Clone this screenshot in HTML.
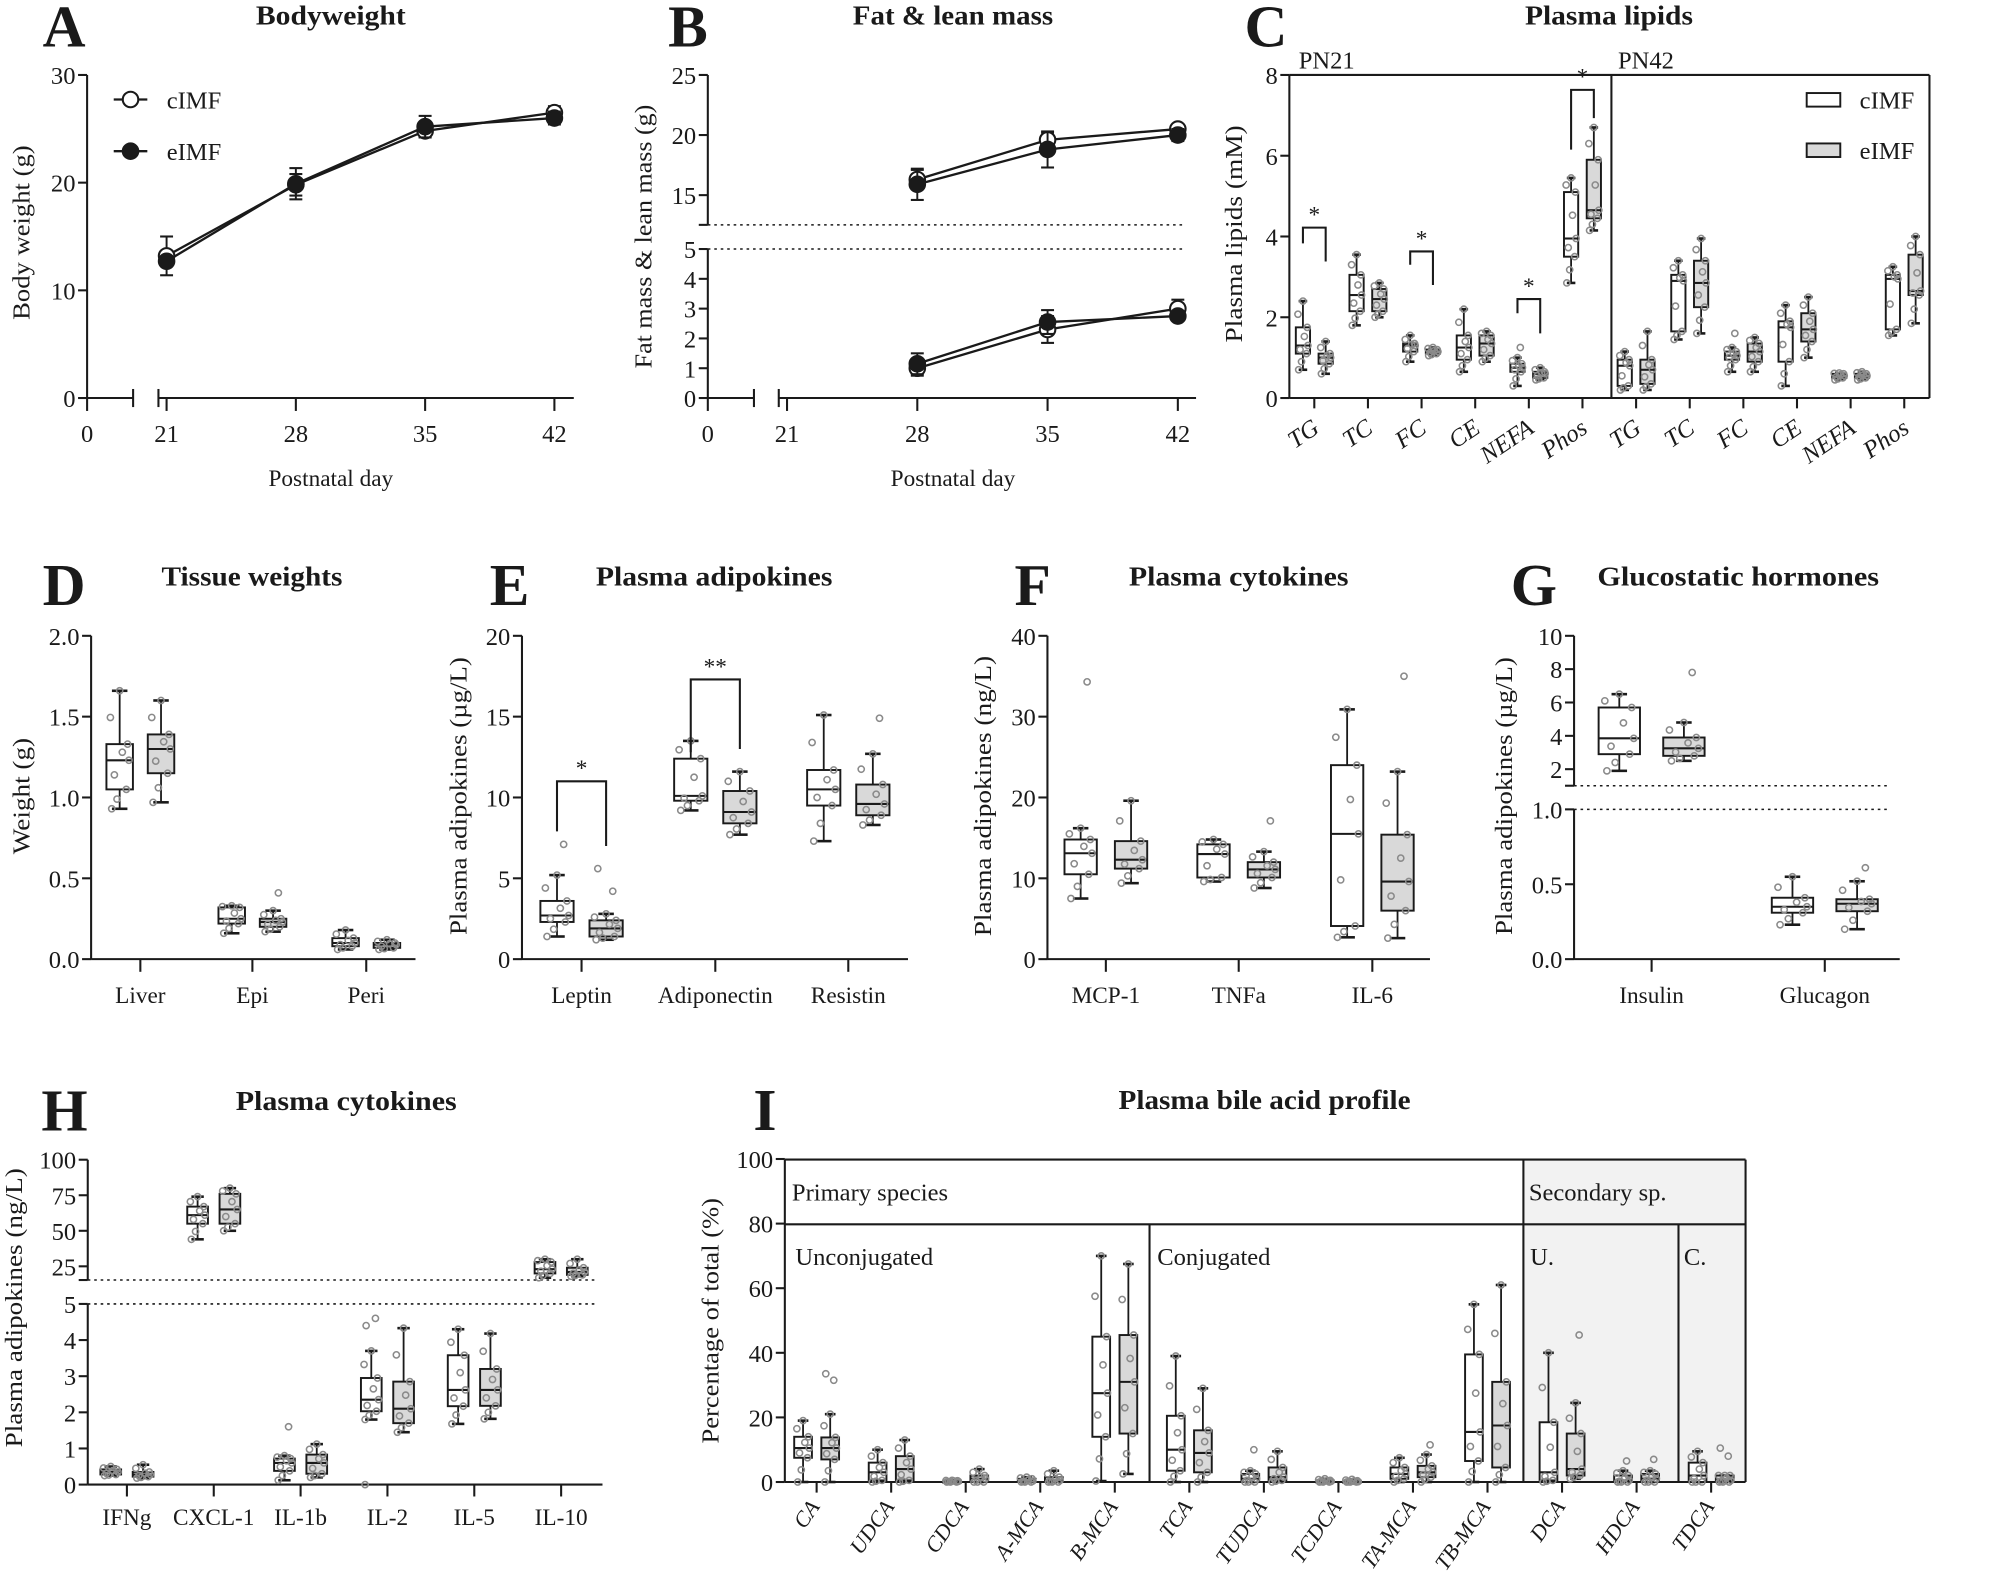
<!DOCTYPE html>
<html><head><meta charset="utf-8"><title>Figure</title>
<style>
html,body{margin:0;padding:0;background:#fff}
svg{display:block;font-family:"Liberation Serif",serif}
</style></head>
<body>
<svg id="fig" xmlns="http://www.w3.org/2000/svg" width="2007" height="1581" viewBox="0 0 1553 1223.4" preserveAspectRatio="none"></svg>
<script>
// ===== Panel A data =====
const dayA=[21,28,35,42];
const bwCtrl=[13.2,19.8,24.8,26.5];
const bwCtrlErr=[1.8,1.0,0.6,0.6];
const bwExp=[12.7,19.9,25.2,26.0];
const bwExpErr=[0.4,1.45,1.0,0.6];
const aYTicks=[0,10,20,30];
const aXTicks=[0,21,28,35,42];
// ===== Panel B data =====
const dayB=[28,35,42];
const leanCtrl=[16.3,19.6,20.5];
const leanCtrlErr=[0.8,0.6,0.3];
const leanExp=[15.9,18.8,20.0];
const leanExpErr=[1.3,1.5,0.5];
const fatCtrl=[1.0,2.3,3.0];
const fatCtrlErr=[0.25,0.45,0.3];
const fatExp=[1.15,2.55,2.75];
const fatExpErr=[0.35,0.4,0.15];
const bUpTicks=[15,20,25];
const bLowTicks=[0,1,2,3,4,5];
// ===== Panel C data [lo,q1,med,q3,hi] =====
const cCats=['TG','TC','FC','CE','NEFA','Phos','TG','TC','FC','CE','NEFA','Phos'];
const cCtrl=[[0.7,1.1,1.3,1.75,2.4],[1.8,2.15,2.55,3.05,3.55],[0.9,1.15,1.3,1.35,1.55],[0.65,0.95,1.25,1.55,2.2],[0.3,0.65,0.75,0.85,1.0],[2.85,3.5,3.95,5.1,5.45],
 [0.2,0.3,0.8,0.95,1.15],[1.45,1.65,2.9,3.05,3.4],[0.65,0.95,1.05,1.15,1.25],[0.3,0.9,1.75,1.9,2.3],[0.45,0.5,0.55,0.6,0.62],[1.55,1.7,2.95,3.05,3.25]];
const cExp=[[0.6,0.85,1.0,1.1,1.4],[2.0,2.15,2.45,2.7,2.85],[1.05,1.1,1.15,1.2,1.25],[0.9,1.05,1.35,1.55,1.65],[0.45,0.5,0.6,0.65,0.75],[4.15,4.45,4.65,5.9,6.7],
 [0.2,0.35,0.7,0.95,1.65],[1.6,2.25,2.85,3.4,3.95],[0.65,0.9,1.15,1.35,1.5],[1.0,1.4,1.7,2.1,2.5],[0.45,0.5,0.55,0.6,0.65],[1.85,2.55,2.65,3.55,4.0]];
const cCtrlOut=[[],[],[],[],[1.25],[],[],[],[1.6],[],[],[]];
const cExpOut=[[],[],[],[],[],[],[],[],[],[],[],[]];
const cYTicks=[0,2,4,6,8];
const cBrackets=[[0,3.83,4.22,3.38,'*'],[2,3.3,3.63,2.8,'*'],[4,2.1,2.45,1.6,'*'],[5,6.15,7.63,6.93,'*']];
// ===== Panel D =====
const dCats=['Liver','Epi','Peri'];
const dCtrl=[[0.93,1.05,1.23,1.33,1.66],[0.16,0.22,0.25,0.32,0.33],[0.06,0.08,0.10,0.13,0.18]];
const dExp=[[0.97,1.15,1.30,1.39,1.60],[0.17,0.20,0.23,0.25,0.30],[0.06,0.07,0.09,0.10,0.12]];
const dCtrlOut=[[],[],[]];
const dExpOut=[[],[0.41],[]];
const dYTicks=[0,0.5,1.0,1.5,2.0];
const dYLabels=['0.0','0.5','1.0','1.5','2.0'];
// ===== Panel E =====
const eCats=['Leptin','Adiponectin','Resistin'];
const eCtrl=[[1.4,2.3,2.7,3.6,5.2],[9.2,9.8,10.1,12.4,13.5],[7.3,9.5,10.5,11.7,15.1]];
const eExp=[[1.2,1.4,1.9,2.4,2.8],[7.7,8.4,9.1,10.4,11.6],[8.3,8.9,9.6,10.8,12.7]];
const eCtrlOut=[[7.1],[],[]];
const eExpOut=[[4.2,5.6],[],[14.9]];
const eYTicks=[0,5,10,15,20];
const eBrackets=[[0,7.9,11.0,7.0,'*'],[1,12.8,17.3,13.0,'**']];
// ===== Panel F =====
const fCats=['MCP-1','TNFa','IL-6'];
const fCtrl=[[7.5,10.5,13.1,14.8,16.2],[9.6,10.1,13.0,14.2,14.8],[2.7,4.1,15.5,24.0,30.9]];
const fExp=[[9.4,11.2,12.3,14.6,19.6],[8.8,10.1,11.1,12.0,13.3],[2.6,6.0,9.6,15.4,23.2]];
const fCtrlOut=[[34.3],[],[]];
const fExpOut=[[],[17.1],[35.0]];
const fYTicks=[0,10,20,30,40];
// ===== Panel G =====
const gCats=['Insulin','Glucagon'];
const gSeg=['u','l'];
const gCtrl=[[1.9,2.9,3.85,5.7,6.5],[0.23,0.31,0.35,0.41,0.55]];
const gExp=[[2.5,2.8,3.25,3.9,4.8],[0.20,0.32,0.37,0.40,0.52]];
const gCtrlOut=[[],[]];
const gExpOut=[[7.8],[0.61]];
const gUpTicks=[2,4,6,8,10];
const gLowTicks=[0,0.5,1.0];
const gLowLabels=['0.0','0.5','1.0'];
// ===== Panel H =====
const hCats=['IFNg','CXCL-1','IL-1b','IL-2','IL-5','IL-10'];
const hSeg=['l','u','l','l','l','u'];
const hCtrl=[[0.25,0.28,0.35,0.42,0.5],[44,55,61,67,74],[0.12,0.38,0.6,0.72,0.8],[1.8,2.03,2.35,2.95,3.7],[1.68,2.17,2.62,3.58,4.3],[17,20,23,28,30]];
const hExp=[[0.18,0.22,0.28,0.35,0.55],[50,55,65,76,80],[0.2,0.3,0.6,0.83,1.12],[1.45,1.7,2.1,2.85,4.33],[1.82,2.18,2.62,3.2,4.18],[18,19,21,24,30]];
const hCtrlOut=[[],[],[1.6],[4.6,4.4,0.0],[],[]];
const hExpOut=[[],[],[],[],[],[]];
const hUpTicks=[25,50,75,100];
const hLowTicks=[0,1,2,3,4,5];
// ===== Panel I =====
const iCats=['CA','UDCA','CDCA','A-MCA','B-MCA','TCA','TUDCA','TCDCA','TA-MCA','TB-MCA','DCA','HDCA','TDCA'];
const iCtrl=[[0,7.5,10.5,14,19],[0,0.5,3,6,10],[0,0,0.2,0.4,0.5],[0,0,0.3,1,1.5],[0.3,14,27.5,45,70],[0,3.5,10,20.5,39],[0,0,1,2.5,3.5],[0,0,0.2,0.5,1],[0,1,2.5,4.5,7.5],[0,6.5,15.5,39.5,55],[0,0.5,3,18.5,40],[0,0,0.5,2,3.5],[0,0,2,6,9.5]];
const iExp=[[0,7,10.5,13.8,21],[0,0.5,4,8,13],[0,0,1,2,4],[0,0,0.5,1.5,3.5],[2.5,15,31,45.5,67.5],[0,3,9,16,29],[0,0.5,1.5,4.5,9.5],[0,0,0.1,0.4,0.8],[0,1.5,3,5,8.5],[0,4.5,17.5,31,61],[1,2,4,15,24.5],[0,0,1,2.5,3.5],[0,0,0.5,2,2]];
const iCtrlOut=[[],[],[],[],[],[],[10],[],[],[],[],[6.5],[]];
const iExpOut=[[31.5,33.5],[],[],[],[],[],[],[],[11.5],[],[45.5],[7],[8,10.5]];
const iYTicks=[0,20,40,60,80,100];

// ===== helpers =====
const NS='http://www.w3.org/2000/svg';
const svg=document.getElementById('fig');
const INK='#1a1a1a';
function grp(name){const g=document.createElementNS(NS,'g');svg.appendChild(g);
 
 
 return g;}
function ln(p,x1,y1,x2,y2,sw,name,dash){const e=document.createElementNS(NS,'line');p.appendChild(e);
 e.setAttribute('x1',x1);e.setAttribute('y1',y1);e.setAttribute('x2',x2);e.setAttribute('y2',y2);
 e.setAttribute('stroke',INK);e.setAttribute('stroke-width',sw);
 if(dash){e.setAttribute('stroke-dasharray',dash);}
 
 
 return e;}
function tx(p,x,y,s,size,anchor,name,weight,len,rot,italic){const e=document.createElementNS(NS,'text');p.appendChild(e);
 e.setAttribute('x',x);e.setAttribute('y',y);e.setAttribute('font-size',size);e.setAttribute('text-anchor',anchor);
 e.setAttribute('fill',INK);
 if(weight){e.setAttribute('font-weight',weight);}
 if(italic){e.setAttribute('font-style','italic');}
 if(len){e.setAttribute('textLength',len);e.setAttribute('lengthAdjust','spacingAndGlyphs');}
 if(rot!==undefined&&rot!==null){e.setAttribute('transform','rotate('+rot+' '+x+' '+y+')');}
 e.textContent=s;
 
 
 return e;}
function circ(p,cx,cy,r,fill,stroke,sw,name){const e=document.createElementNS(NS,'circle');p.appendChild(e);
 e.setAttribute('cx',cx);e.setAttribute('cy',cy);e.setAttribute('r',r);e.setAttribute('fill',fill);e.setAttribute('stroke',stroke);e.setAttribute('stroke-width',sw);
 
 
 return e;}
function rect(p,x,y,w,h,fill,stroke,sw,name){const e=document.createElementNS(NS,'rect');p.appendChild(e);
 e.setAttribute('x',x);e.setAttribute('y',y);e.setAttribute('width',w);e.setAttribute('height',h);e.setAttribute('fill',fill);
 e.setAttribute('stroke',stroke);e.setAttribute('stroke-width',sw);
 
 
 return e;}
function yTicks(p,x,vals,labels,yf){vals.forEach((v,i)=>{const y=yf(v);ln(p,x-7,y,x,y,1.6,'y-tick');tx(p,x-9,y+7,labels[i],19,'end','y-tick-label');});}
function header(p,letter,lx,ly,title,tcx,ty,tlen){tx(p,lx,ly,letter,46,'start','panel-letter','bold');tx(p,tcx,ty,title,21,'middle','panel-title','bold',tlen);}
const JIT=[-0.3,0.25,-0.1,0.35,-0.2,0.1,0.3,-0.35,0.0,0.2,-0.25];
function boxPlot(p,xc,w,st,out,yf,fill,name){
 const g=document.createElementNS(NS,'g');p.appendChild(g);
 
 
 const [lo,q1,md,q3,hi]=st;const cw=Math.min(w*0.3,6);
 ln(g,xc,yf(lo),xc,yf(hi),1.4,'whisker');
 ln(g,xc-cw,yf(lo),xc+cw,yf(lo),2,'whisker-cap');
 ln(g,xc-cw,yf(hi),xc+cw,yf(hi),2,'whisker-cap');
 rect(g,xc-w/2,yf(q3),w,Math.max(yf(q1)-yf(q3),1.5),fill,INK,1.5,'box');
 ln(g,xc-w/2,yf(md),xc+w/2,yf(md),1.6,'median-line');
 const pts=[lo,q1,(lo+q1)/2,md,(q1+md)/2,(md+q3)/2,q3,(q3+hi)/2,hi].concat(out);
 pts.forEach((v,i)=>{circ(g,xc+JIT[i%JIT.length]*w,yf(v),2.4,'none','#8a8a8a',1.2,'data-point');});
}
function bracket(p,x1,x2,yl,yt,yr,lab,yf){
 const e=document.createElementNS(NS,'polyline');p.appendChild(e);
 e.setAttribute('points',x1+','+yf(yl)+' '+x1+','+yf(yt)+' '+x2+','+yf(yt)+' '+x2+','+yf(yr));
 e.setAttribute('fill','none');e.setAttribute('stroke',INK);e.setAttribute('stroke-width',1.6);
 
 
 tx(p,(x1+x2)/2,yf(yt)-4,lab,18,'middle','significance-star');
}
function series(p,xs,ys,errs,xf,yf,filled,name){
 const g=document.createElementNS(NS,'g');p.appendChild(g);
 
 
 const pl=document.createElementNS(NS,'polyline');g.appendChild(pl);
 pl.setAttribute('points',xs.map((d,i)=>xf(d)+','+yf(ys[i])).join(' '));
 pl.setAttribute('fill','none');pl.setAttribute('stroke',INK);pl.setAttribute('stroke-width',1.8);
 
 
 xs.forEach((d,i)=>{const x=xf(d);
  ln(g,x,yf(ys[i]-errs[i]),x,yf(ys[i]+errs[i]),1.5,'error-bar');
  ln(g,x-5,yf(ys[i]+errs[i]),x+5,yf(ys[i]+errs[i]),1.6,'error-cap');
  ln(g,x-5,yf(ys[i]-errs[i]),x+5,yf(ys[i]-errs[i]),1.6,'error-cap');});
 xs.forEach((d,i)=>{circ(g,xf(d),yf(ys[i]),6,filled?INK:'#fff',INK,1.6,'marker');});
}

// ===== Panel A =====
(function(){
 const p=grp('panel-a-bodyweight');
 const xA=d=>d===0?67.4:128.9+(d-21)*14.29;
 const yA=v=>308-v*8.333;
 header(p,'A',33,36,'Bodyweight',256,19,116);
 ln(p,67.4,58,67.4,308,1.6,'y-axis');
 yTicks(p,67.4,aYTicks,aYTicks.map(String),yA);
 ln(p,67.4,308,103,308,1.6,'x-axis');
 ln(p,103,301,103,315,1.6,'axis-break');
 ln(p,122.6,301,122.6,315,1.6,'axis-break');
 ln(p,122.6,308,444,308,1.6,'x-axis');
 aXTicks.forEach(d=>{ln(p,xA(d),308,xA(d),318,1.6,'x-tick');tx(p,xA(d),342,String(d),19,'middle','x-tick-label');});
 tx(p,256,376,'Postnatal day',18,'middle','x-axis-title');
 tx(p,23,180,'Body weight (g)',19,'middle','y-axis-title',null,135,-90);
 series(p,dayA,bwCtrl,bwCtrlErr,xA,yA,false,'series-cimf');
 series(p,dayA,bwExp,bwExpErr,xA,yA,true,'series-eimf');
 ln(p,88,77,114,77,1.8,'legend-line');circ(p,101,77,6,'#fff',INK,1.6,'legend-marker-cimf');tx(p,129,84,'cIMF',19,'start','legend-label-cimf');
 ln(p,88,117,114,117,1.8,'legend-line');circ(p,101,117,6,INK,INK,1.6,'legend-marker-eimf');tx(p,129,124,'eIMF',19,'start','legend-label-eimf');
})();

// ===== Panel B =====
(function(){
 const p=grp('panel-b-fat-lean-mass');
 const xB=d=>d===0?547.7:609+(d-21)*14.4;
 const yU=v=>104.5-(v-20)*9.3;
 const yL=v=>308-v*23.06;
 header(p,'B',517,36,'Fat & lean mass',737.4,19,155);
 ln(p,547.7,58,547.7,174,1.6,'y-axis-upper');
 ln(p,547.7,192.7,547.7,308,1.6,'y-axis-lower');
 yTicks(p,547.7,bUpTicks,bUpTicks.map(String),yU);
 ln(p,540.7,174,547.7,174,1.6,'y-tick');
 yTicks(p,547.7,bLowTicks,bLowTicks.map(String),yL);
 ln(p,547.7,174,915,174,1.2,'axis-break-line','2,3');
 ln(p,547.7,192.7,915,192.7,1.2,'axis-break-line','2,3');
 ln(p,547.7,308,583.4,308,1.6,'x-axis');
 ln(p,583.4,301,583.4,315,1.6,'axis-break');
 ln(p,602.6,301,602.6,315,1.6,'axis-break');
 ln(p,602.6,308,925.5,308,1.6,'x-axis');
 aXTicks.forEach(d=>{ln(p,xB(d),308,xB(d),318,1.6,'x-tick');tx(p,xB(d),342,String(d),19,'middle','x-tick-label');});
 tx(p,737.4,376,'Postnatal day',18,'middle','x-axis-title');
 tx(p,504,183,'Fat mass & lean mass (g)',19,'middle','y-axis-title',null,204,-90);
 series(p,dayB,leanCtrl,leanCtrlErr,xB,yU,false,'lean-mass-cimf');
 series(p,dayB,leanExp,leanExpErr,xB,yU,true,'lean-mass-eimf');
 series(p,dayB,fatCtrl,fatCtrlErr,xB,yL,false,'fat-mass-cimf');
 series(p,dayB,fatExp,fatExpErr,xB,yL,true,'fat-mass-eimf');
})();

// ===== Panel C =====
(function(){
 const p=grp('panel-c-plasma-lipids');
 const yC=v=>308-v*31.25;
 const xC=i=>1017+i*41.5;
 header(p,'C',963,36,'Plasma lipids',1245,19,130);
 ln(p,997.7,58,1493,58,1.6,'plot-frame-top');
 ln(p,1493,58,1493,308,1.6,'plot-frame-right');
 ln(p,1246.9,58,1246.9,308,1.6,'timepoint-divider');
 ln(p,997.7,58,997.7,308,1.6,'y-axis');
 ln(p,997.7,308,1493,308,1.6,'x-axis');
 yTicks(p,997.7,cYTicks,cYTicks.map(String),yC);
 tx(p,1005,53,'PN21',19,'start','group-label-pn21');
 tx(p,1252,53,'PN42',19,'start','group-label-pn42');
 tx(p,961,181,'Plasma lipids (mM)',19,'middle','y-axis-title',null,168,-90);
 cCats.forEach((c,i)=>{const x=xC(i);ln(p,x,308,x,316,1.6,'x-tick');
  tx(p,x+5,334,c,19,'end','x-tick-label',null,null,-34,true);
  boxPlot(p,x-8.8,11,cCtrl[i],cCtrlOut[i],yC,'#fff','box-cimf-'+c.toLowerCase());
  boxPlot(p,x+8.8,11,cExp[i],cExpOut[i],yC,'#d9d9d9','box-eimf-'+c.toLowerCase());});
 cBrackets.forEach(b=>{const x=xC(b[0]);bracket(p,x-8.8,x+8.8,b[1],b[2],b[3],b[4],yC);});
 rect(p,1398,72,26,10.5,'#fff',INK,1.5,'legend-swatch-cimf');tx(p,1439,84,'cIMF',19,'start','legend-label-cimf');
 rect(p,1398,111,26,10.5,'#d9d9d9',INK,1.5,'legend-swatch-eimf');tx(p,1439,123,'eIMF',19,'start','legend-label-eimf');
})();

function boxPanel(name,letter,lx,title,tcx,tlen,axX,endX,ticksX,off,w,cats,ctrl,exp,cOut,eOut,yf,yVals,yLabs,ytitle,ytx,ytlen){
 const p=grp(name);
 header(p,letter,lx,468,title,tcx,453,tlen);
 ln(p,axX,492,axX,742.2,1.6,'y-axis');
 ln(p,axX,742.2,endX,742.2,1.6,'x-axis');
 yTicks(p,axX,yVals,yLabs,yf);
 tx(p,ytx,616,ytitle,19,'middle','y-axis-title',null,ytlen,-90);
 cats.forEach((c,i)=>{const x=ticksX[i];ln(p,x,742.2,x,752,1.6,'x-tick');tx(p,x,776,c,18,'middle','x-tick-label');
  boxPlot(p,x-off,w,ctrl[i],cOut[i],yf,'#fff','box-cimf-'+c.toLowerCase());
  boxPlot(p,x+off,w,exp[i],eOut[i],yf,'#d9d9d9','box-eimf-'+c.toLowerCase());});
 return p;
}
boxPanel('panel-d-tissue-weights','D',33,'Tissue weights',195,140,70.5,321.5,[108.6,195.3,283.4],16,20.5,dCats,dCtrl,dExp,dCtrlOut,dExpOut,v=>742.2-v*125.1,dYTicks,dYLabels,'Weight (g)',23,90);
(function(){
 const yE=v=>742.2-v*12.51;const xs=[450,553.5,656.4];
 const p=boxPanel('panel-e-plasma-adipokines','E',379,'Plasma adipokines',552.6,183,403.9,702.6,xs,19,25.7,eCats,eCtrl,eExp,eCtrlOut,eExpOut,yE,eYTicks,eYTicks.map(String),'Plasma adipokines (µg/L)',361,215);
 eBrackets.forEach(b=>{bracket(p,xs[b[0]]-19,xs[b[0]]+19,b[1],b[2],b[3],b[4],yE);});
})();
boxPanel('panel-f-plasma-cytokines','F',785,'Plasma cytokines',958.5,170,810.5,1106.5,[855.7,958.5,1061.9],19.5,25,fCats,fCtrl,fExp,fCtrlOut,fExpOut,v=>742.2-v*6.255,fYTicks,fYTicks.map(String),'Plasma adipokines (ng/L)',767,217);

(function(){
 const p=grp('panel-g-glucostatic-hormones');
 const yG=(v,s)=>s==='u'?492+(10-v)*12.9:742.2-v*115.9;
 const xs=[1278,1412];
 header(p,'G',1169,468,'Glucostatic hormones',1345,453,218);
 ln(p,1218,492,1218,608,1.6,'y-axis-upper');
 ln(p,1218,626.3,1218,742.2,1.6,'y-axis-lower');
 ln(p,1218,742.2,1470,742.2,1.6,'x-axis');
 yTicks(p,1218,gUpTicks,gUpTicks.map(String),v=>yG(v,'u'));
 ln(p,1211,608,1218,608,1.6,'y-tick');
 yTicks(p,1218,gLowTicks,gLowLabels,v=>yG(v,'l'));
 ln(p,1218,608,1460,608,1.2,'axis-break-line','2,3');
 ln(p,1218,626.3,1460,626.3,1.2,'axis-break-line','2,3');
 tx(p,1170,616,'Plasma adipokines (µg/L)',19,'middle','y-axis-title',null,215,-90);
 gCats.forEach((c,i)=>{const x=xs[i];const yf=v=>yG(v,gSeg[i]);ln(p,x,742.2,x,752,1.6,'x-tick');tx(p,x,776,c,18,'middle','x-tick-label');
  boxPlot(p,x-25,32,gCtrl[i],gCtrlOut[i],yf,'#fff','box-cimf-'+c.toLowerCase());
  boxPlot(p,x+25,32,gExp[i],gExpOut[i],yf,'#d9d9d9','box-eimf-'+c.toLowerCase());});
})();

(function(){
 const p=grp('panel-h-plasma-cytokines');
 const yH=(v,s)=>s==='u'?897.4+(100-v)*1.1:1148.8-v*27.96;
 const xH=i=>98.2+i*67.2;
 header(p,'H',32,875,'Plasma cytokines',267.9,859,171);
 ln(p,67.9,897.4,67.9,990.5,1.6,'y-axis-upper');
 ln(p,67.9,1009,67.9,1148.8,1.6,'y-axis-lower');
 ln(p,67.9,1148.8,466.2,1148.8,1.6,'x-axis');
 yTicks(p,67.9,hUpTicks,hUpTicks.map(String),v=>yH(v,'u'));
 ln(p,60.9,990.5,67.9,990.5,1.6,'y-tick');
 yTicks(p,67.9,hLowTicks,hLowTicks.map(String),v=>yH(v,'l'));
 ln(p,67.9,990.5,462,990.5,1.2,'axis-break-line','2,3');
 ln(p,67.9,1009,462,1009,1.2,'axis-break-line','2,3');
 tx(p,17,1012,'Plasma adipokines (ng/L)',19,'middle','y-axis-title',null,216,-90);
 hCats.forEach((c,i)=>{const x=xH(i);const yf=v=>yH(v,hSeg[i]);ln(p,x,1148.8,x,1158,1.6,'x-tick');tx(p,x,1180,c,18,'middle','x-tick-label');
  boxPlot(p,x-12.5,16,hCtrl[i],hCtrlOut[i],yf,'#fff','box-cimf-'+c.toLowerCase());
  boxPlot(p,x+12.5,16,hExp[i],hExpOut[i],yf,'#d9d9d9','box-eimf-'+c.toLowerCase());});
})();

(function(){
 const p=grp('panel-i-bile-acids');
 const yI=v=>1146.8-v*2.4995;
 const xI=i=>631.9+i*57.68;
 header(p,'I',583,874.6,'Plasma bile acid profile',978.5,858,226);
 rect(p,1178.8,897.3,171.9,249.5,'#f2f2f2','none',0,'secondary-species-shading');
 ln(p,607.3,897.3,1350.7,897.3,1.6,'plot-frame-top');
 ln(p,1350.7,897.3,1350.7,1146.8,1.6,'plot-frame-right');
 ln(p,607.3,947.4,1350.7,947.4,1.6,'group-divider-horizontal');
 ln(p,1178.8,897.3,1178.8,1146.8,1.6,'primary-secondary-divider');
 ln(p,889.5,947.4,889.5,1146.8,1.6,'unconjugated-conjugated-divider');
 ln(p,1298.8,947.4,1298.8,1146.8,1.6,'secondary-u-c-divider');
 ln(p,607.3,897.3,607.3,1146.8,1.6,'y-axis');
 ln(p,607.3,1146.8,1350.7,1146.8,1.6,'x-axis');
 yTicks(p,607.3,iYTicks,iYTicks.map(String),yI);
 tx(p,612.8,929,'Primary species',19,'start','group-label-primary');
 tx(p,1183,929,'Secondary sp.',19,'start','group-label-secondary');
 tx(p,615.5,979,'Unconjugated',19,'start','group-label-unconjugated');
 tx(p,895.5,979,'Conjugated',19,'start','group-label-conjugated');
 tx(p,1184,979,'U.',19,'start','group-label-u');
 tx(p,1303,979,'C.',19,'start','group-label-c');
 tx(p,556,1022,'Percentage of total (%)',19,'middle','y-axis-title',null,190,-90);
 iCats.forEach((c,i)=>{const x=xI(i);ln(p,x,1146.8,x,1155,1.6,'x-tick');
  tx(p,x+3,1166,c,17,'end','x-tick-label',null,null,-55,true);
  boxPlot(p,x-10.5,13.7,iCtrl[i],iCtrlOut[i],yI,'#fff','box-cimf-'+c.toLowerCase());
  boxPlot(p,x+10.5,13.7,iExp[i],iExpOut[i],yI,'#d9d9d9','box-eimf-'+c.toLowerCase());});
})();
</script>
</body></html>
